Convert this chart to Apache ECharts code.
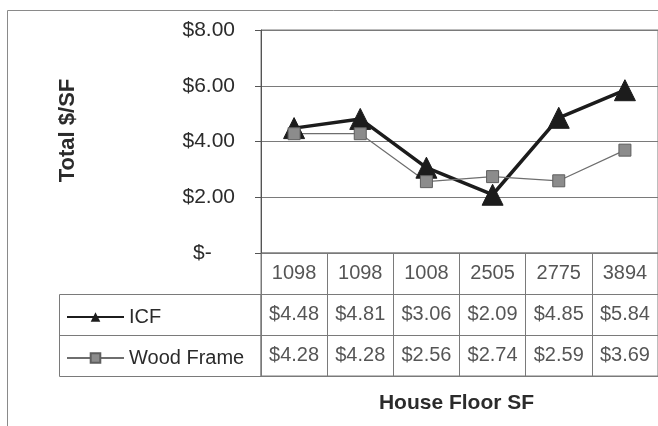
<!DOCTYPE html>
<html>
<head>
<meta charset="utf-8">
<script src="https://cdn.jsdelivr.net/npm/echarts@6/dist/echarts.min.js"></script>
<style>
  html, body { margin: 0; padding: 0; background: #fff; }
  #chart { width: 658px; height: 426px; }
</style>
</head>
<body>
<div id="chart"></div>
<script>
// house floor areas (table header row)
const categories = ["1098", "1098", "1008", "2505", "2775", "3894"];
const icfValues = [4.48, 4.81, 3.06, 2.09, 4.85, 5.84];
const woodValues = [4.28, 4.28, 2.56, 2.74, 2.59, 3.69];
const yTicks = [0, 2, 4, 6, 8];
const tableRows = ["header", "ICF", "Wood Frame"];

const font = "Arial, 'Liberation Sans', sans-serif";
const textColor = "#2b2b2b";
const lineColor = "#7a7a7a";

const chart = echarts.init(document.getElementById("chart"));

// table cells: [column, row, value]
const tableCells = [];
categories.forEach((c, i) => {
  tableCells.push([i, 0, c]);
  tableCells.push([i, 1, icfValues[i]]);
  tableCells.push([i, 2, woodValues[i]]);
});

const fmtMoney = v => v === 0 ? "$-    " : "$" + v.toFixed(2);

const option = {
  animation: false,
  backgroundColor: "#fff",
  textStyle: { fontFamily: font },
  grid: [
    { left: 261, top: 30, width: 405, height: 223, show: true, borderColor: lineColor, borderWidth: 1 },
    { left: 261, top: 253, width: 405, height: 123, show: true, borderColor: lineColor, borderWidth: 1 }
  ],
  legend: {
    orient: "vertical",
    left: 61,
    top: 302,
    itemWidth: 57,
    itemHeight: 12,
    itemGap: 21,
    data: ["ICF", "Wood Frame"],
    textStyle: { fontSize: 20, color: textColor, fontFamily: font }
  },
  xAxis: [
    {
      type: "category",
      gridIndex: 0,
      data: categories,
      boundaryGap: true,
      axisLine: { show: false },
      axisTick: { show: false },
      axisLabel: { show: false }
    },
    {
      type: "category",
      gridIndex: 1,
      data: categories,
      boundaryGap: true,
      axisLine: { show: false },
      axisTick: { show: false },
      axisLabel: { show: false },
      splitLine: { show: true, lineStyle: { color: lineColor, width: 1 } },
      name: "House Floor SF",
      nameLocation: "middle",
      nameGap: 17,
      nameTextStyle: { fontSize: 21, fontWeight: "bold", color: textColor, fontFamily: font, padding: [0, 6, 0, 0] }
    }
  ],
  yAxis: [
    {
      type: "value",
      gridIndex: 0,
      min: yTicks[0],
      max: yTicks[yTicks.length - 1],
      interval: 2,
      axisLine: { show: true, lineStyle: { color: "#555", width: 1 } },
      axisTick: { show: true, length: 6, lineStyle: { color: "#555" } },
      axisLabel: { formatter: fmtMoney, fontSize: 21, color: textColor, margin: 26, fontFamily: font },
      splitLine: { show: true, lineStyle: { color: lineColor, width: 1 } },
      name: "Total $/SF",
      nameLocation: "middle",
      nameRotate: 90,
      nameGap: 182,
      nameTextStyle: { fontSize: 22, fontWeight: "bold", color: textColor, fontFamily: font, padding: [0, 0, 0, 22] }
    },
    {
      type: "category",
      gridIndex: 1,
      data: [0, 1, 2],
      inverse: true,
      boundaryGap: true,
      axisLine: { show: false },
      axisTick: { show: false },
      axisLabel: { show: false },
      splitLine: { show: true, lineStyle: { color: lineColor, width: 1 } }
    }
  ],
  graphic: [
    // outer chart frame
    { type: "rect", shape: { x: 7.5, y: 10.5, width: 700, height: 430 }, style: { fill: null, stroke: "#8a8a8a", lineWidth: 1 }, silent: true },
    // legend column of the data table
    { type: "rect", shape: { x: 59.5, y: 294.5, width: 201.5, height: 82 }, style: { fill: null, stroke: lineColor, lineWidth: 1 }, silent: true },
    { type: "line", shape: { x1: 59.5, y1: 335.5, x2: 261, y2: 335.5 }, style: { stroke: lineColor, lineWidth: 1 }, silent: true }
  ],
  series: [
    {
      name: "ICF",
      type: "line",
      xAxisIndex: 0,
      yAxisIndex: 0,
      data: icfValues,
      symbol: "triangle",
      symbolSize: 21,
      lineStyle: { color: "#1c1c1c", width: 3.5 },
      itemStyle: { color: "#1c1c1c", borderColor: "#1c1c1c" }
    },
    {
      name: "Wood Frame",
      type: "line",
      xAxisIndex: 0,
      yAxisIndex: 0,
      data: woodValues,
      symbol: "rect",
      symbolSize: 12,
      lineStyle: { color: "#6e6e6e", width: 1.2 },
      itemStyle: { color: "#8c8c8c", borderColor: "#5e5e5e", borderWidth: 1 }
    },
    {
      name: "table",
      type: "scatter",
      xAxisIndex: 1,
      yAxisIndex: 1,
      data: tableCells,
      symbolSize: 1,
      itemStyle: { color: "rgba(0,0,0,0)" },
      silent: true,
      label: {
        show: true,
        position: "inside",
        fontSize: 20,
        color: textColor,
        fontFamily: font,
        formatter: p => p.value[1] === 0 ? p.value[2] : "$" + Number(p.value[2]).toFixed(2)
      }
    }
  ]
};

chart.setOption(option);
</script>
</body>
</html>
